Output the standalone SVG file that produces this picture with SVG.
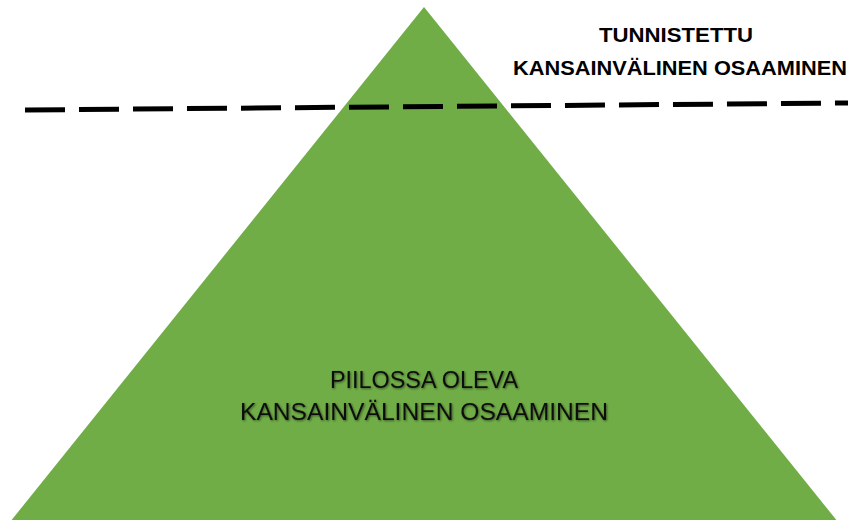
<svg xmlns="http://www.w3.org/2000/svg" width="848" height="520" viewBox="0 0 848 520">
<defs>
<style>
.top{font-family:"Liberation Sans","Open Sans",sans-serif;font-weight:bold;font-size:20px;fill:#000}
.bot{font-family:"Liberation Sans","Open Sans",sans-serif;font-size:23px;fill:#111}
</style>
<filter id="sh" x="-5%" y="-20%" width="110%" height="140%">
<feGaussianBlur in="SourceAlpha" stdDeviation="1"/>
<feOffset dx="1" dy="1" result="b"/>
<feComponentTransfer><feFuncA type="linear" slope="0.5"/></feComponentTransfer>
<feMerge><feMergeNode/><feMergeNode in="SourceGraphic"/></feMerge>
</filter>
</defs>
<rect width="848" height="520" fill="#fff"/>
<g id="pyramid">
<polygon points="424,7 838,522 10,522" fill="#70AD47"/>
</g>
<g id="connectors">
<line x1="25" y1="110" x2="848" y2="103" stroke="#000" stroke-width="5" stroke-dasharray="40 14"/>
</g>
<g id="label-top">
<text class="top" x="676" y="42" text-anchor="middle" textLength="154" lengthAdjust="spacingAndGlyphs">TUNNISTETTU</text>
<text class="top" x="680" y="75" text-anchor="middle" textLength="334" lengthAdjust="spacingAndGlyphs">KANSAINVÄLINEN OSAAMINEN</text>
</g>
<g id="label-bottom" filter="url(#sh)">
<text class="bot" x="424" y="388" text-anchor="middle" textLength="188" lengthAdjust="spacingAndGlyphs">PIILOSSA OLEVA</text>
<text class="bot" x="424" y="420" text-anchor="middle" textLength="368" lengthAdjust="spacingAndGlyphs">KANSAINVÄLINEN OSAAMINEN</text>
</g>
</svg>
